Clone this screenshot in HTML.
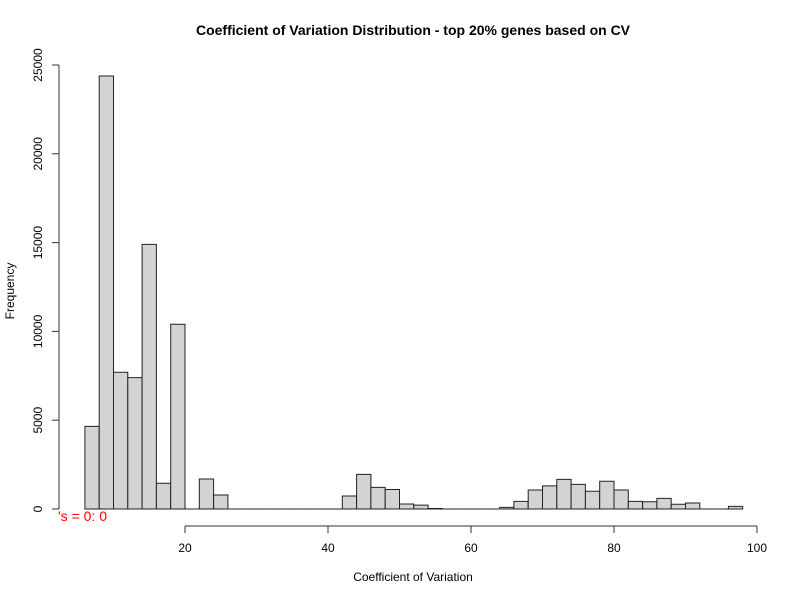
<!DOCTYPE html>
<html><head><meta charset="utf-8"><style>
body{margin:0;background:#fff;}
svg{display:block;font-family:"Liberation Sans",sans-serif;}
</style></head><body>
<svg id="chart" width="800" height="600">
<text x="413" y="35" text-anchor="middle" font-weight="bold" font-size="14">Coefficient of Variation Distribution - top 20% genes based on CV</text>
<text x="413" y="581" text-anchor="middle" font-size="12">Coefficient of Variation</text>
<text transform="translate(14,291) rotate(-90)" text-anchor="middle" font-size="12">Frequency</text>
<g id="bars"></g>
<g id="xaxis"></g>
<g id="yaxis"></g>
<text x="58" y="521" fill="#ff0000" font-size="14">'s = 0: 0</text>
</svg>
<script>
const binStart = 6;
const binWidth = 2;
const counts = [4650,24380,7700,7400,14900,1450,10400,0,1690,790,0,0,0,0,0,0,0,0,730,1950,1220,1100,280,220,30,0,0,0,0,95,430,1070,1300,1670,1390,1000,1560,1070,430,410,600,265,340,0,0,150];
const xTicks = [20,40,60,80,100];
const yTicks = [0,5000,10000,15000,20000,25000];
const NS="http://www.w3.org/2000/svg";
const xs = v => 42 + v*7.15;
const ys = v => 509 - v*444/25000;
const bars=document.getElementById('bars');
counts.forEach((c,i)=>{
  const x0=binStart+i*binWidth;
  const a=xs(x0), b=xs(x0+binWidth), t=ys(c), z=ys(0);
  const p=document.createElementNS(NS,'path');
  p.setAttribute('d','M'+a+','+z+'L'+a+','+t+'L'+b+','+t+'L'+b+','+z+'Z');
  p.setAttribute('fill','#d3d3d3');p.setAttribute('stroke','#222');p.setAttribute('stroke-width','1');
  
  
  bars.appendChild(p);
});
const xa=document.getElementById('xaxis');
let h='<line x1="'+xs(xTicks[0])+'" x2="'+xs(xTicks[xTicks.length-1])+'" y1="526" y2="526" stroke="#333"/>';
xTicks.forEach(t=>{h+='<line x1="'+xs(t)+'" x2="'+xs(t)+'" y1="526" y2="533" stroke="#333"/><text x="'+xs(t)+'" y="552" text-anchor="middle" font-size="12">'+t+'</text>';});
xa.innerHTML=h;
const ya=document.getElementById('yaxis');
h='<line x1="59" x2="59" y1="'+ys(yTicks[0])+'" y2="'+ys(yTicks[yTicks.length-1])+'" stroke="#333"/>';
yTicks.forEach(t=>{h+='<line x1="52" x2="59" y1="'+ys(t)+'" y2="'+ys(t)+'" stroke="#333"/><text transform="translate(42,'+ys(t)+') rotate(-90)" text-anchor="middle" font-size="12">'+t+'</text>';});
ya.innerHTML=h;
</script>
</body></html>
